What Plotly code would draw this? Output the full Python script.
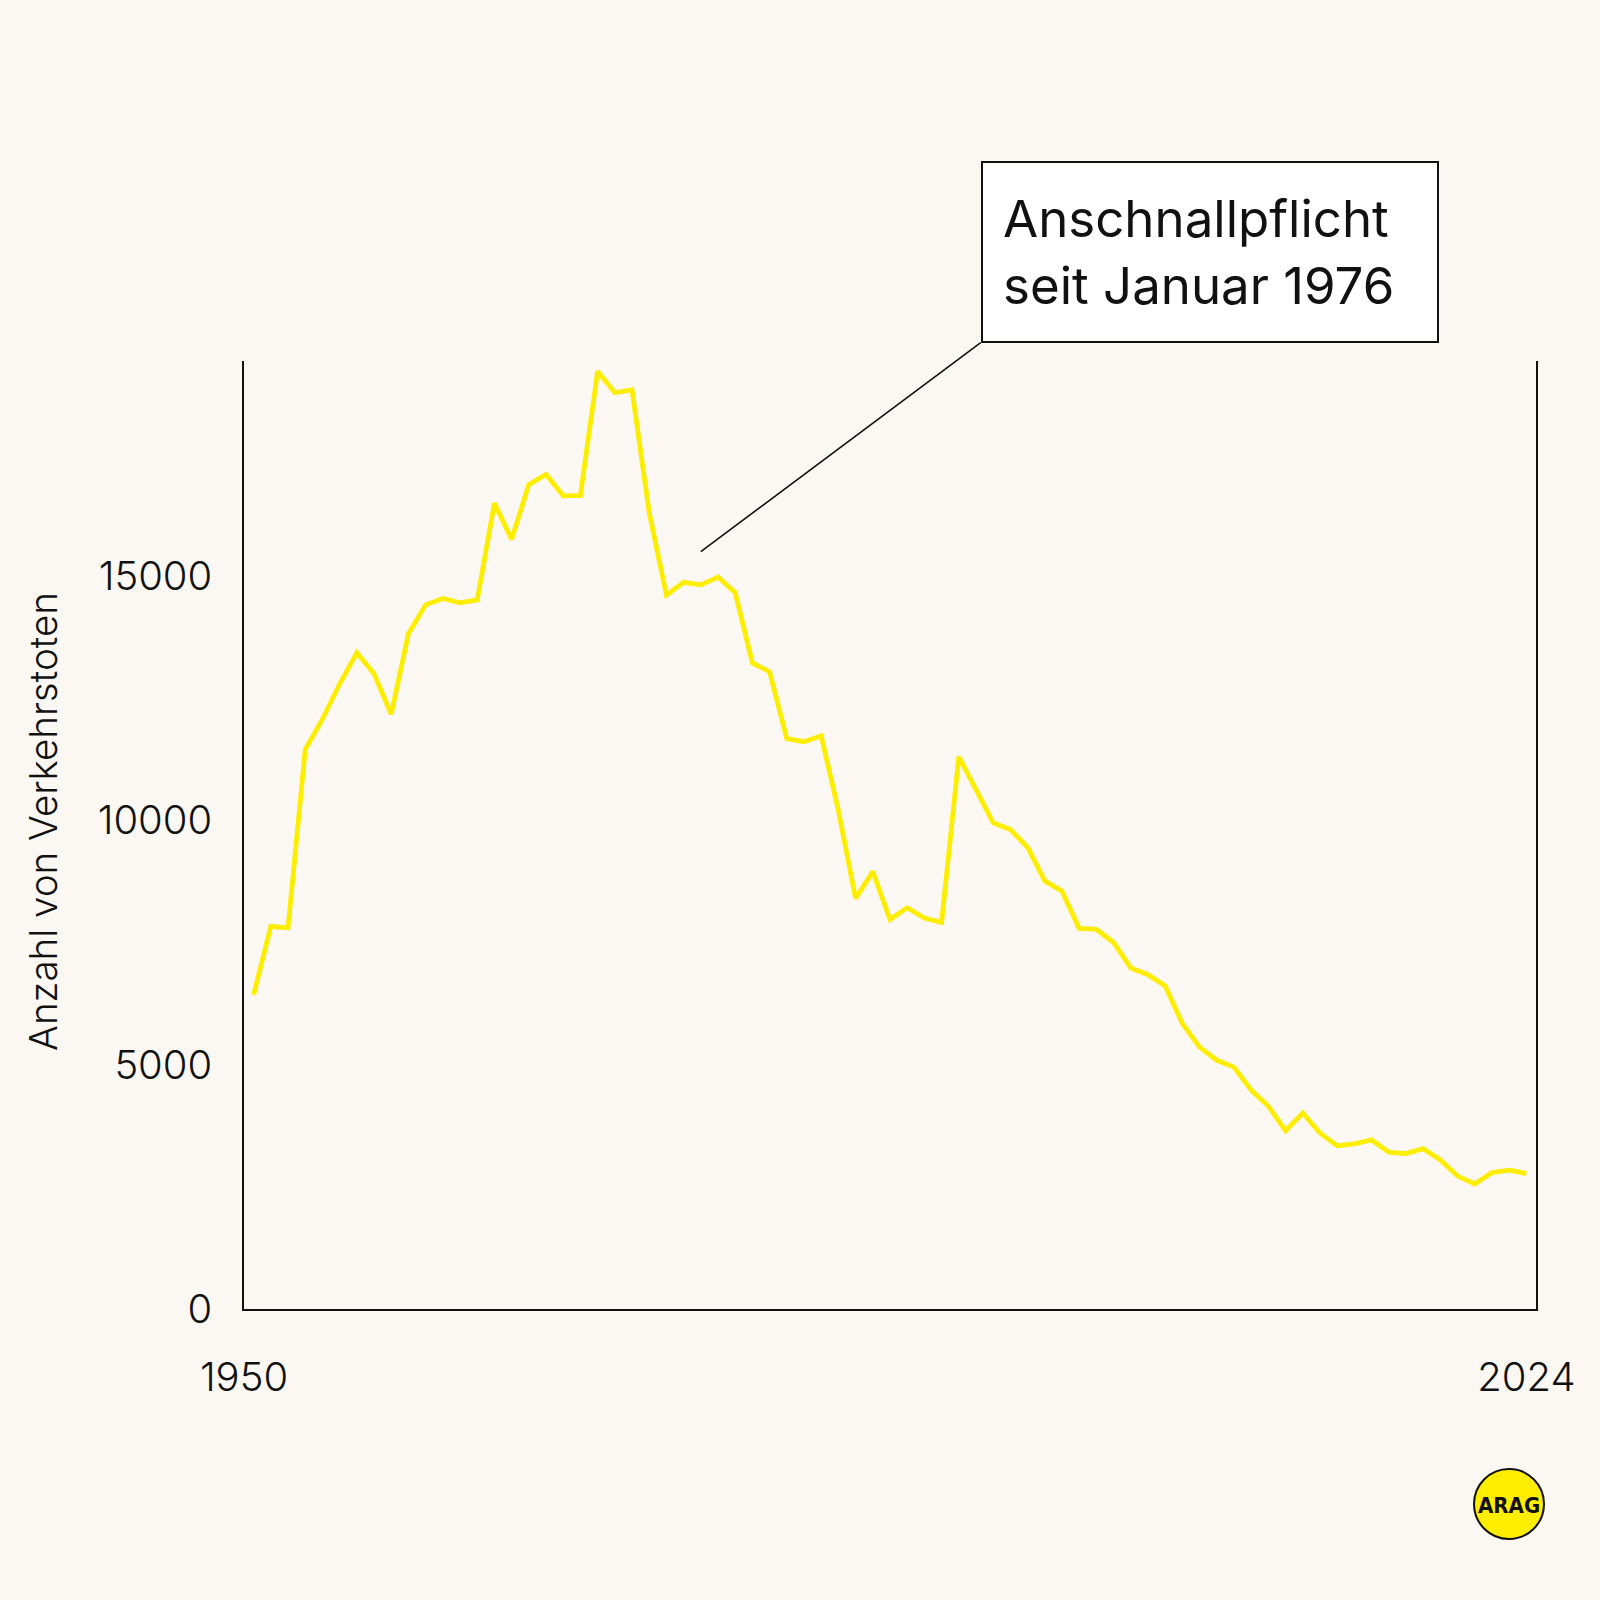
import plotly.graph_objects as go

# ---- data ----
years = list(range(1950, 2025))
deaths = [
    6430, 7830, 7800, 11450, 12070, 12790, 13430, 13000, 12170, 13820,
    14410, 14540, 14450, 14510, 16490, 15750, 16870, 17080, 16640, 16650,
    19190, 18750, 18810, 16300, 14610, 14870, 14820, 14980, 14660, 13220,
    13040, 11670, 11610, 11730, 10200, 8400, 8950, 7970, 8210, 8000,
    7910, 11300, 10630, 9950, 9810, 9450, 8760, 8550, 7790, 7770,
    7500, 6980, 6840, 6610, 5840, 5360, 5090, 4950, 4480, 4150,
    3650, 4010, 3600, 3340, 3380, 3460, 3210, 3180, 3280, 3050,
    2720, 2560, 2790, 2840, 2770,
]
x_tick_text = ["1950", "2024"]
y_ticks = [0, 5000, 10000, 15000]
y_title = "Anzahl von Verkehrstoten"
note_text = "Anschnallpflicht<br>seit Januar 1976"
note_year = 1976
note_value = 15500

# ---- styling ----
BG = "#FBF8F3"
YELLOW = "#FFED00"
INK = "#111111"
FONT = "Inter"

W, H = 1600, 1600
L, R, T, B = 244, 64, 361, 291
X_RANGE = [1949.44, 2024.56]
Y_RANGE = [0, 19400]

fig = go.Figure()
fig.add_trace(go.Scatter(
    x=years, y=deaths, mode="lines",
    line=dict(color=YELLOW, width=4.8),
    hoverinfo="skip", showlegend=False,
))

fig.update_layout(
    width=W, height=H,
    paper_bgcolor=BG, plot_bgcolor=BG,
    margin=dict(l=L, r=R, t=T, b=B, pad=0),
    font=dict(family=FONT, color=INK),
    showlegend=False,
    xaxis=dict(
        range=X_RANGE, showgrid=False, zeroline=False,
        showline=True, linecolor=INK, linewidth=1.5, mirror=False,
        tickmode="array", tickvals=[X_RANGE[0], years[-1]], ticktext=x_tick_text,
        ticks="", ticklabelstandoff=32,
        tickfont=dict(family=FONT, size=40, color=INK, weight=300),
        fixedrange=True,
    ),
    yaxis=dict(
        range=Y_RANGE, showgrid=False, zeroline=False,
        showline=True, linecolor=INK, linewidth=1.5, mirror=True,
        tickmode="array", tickvals=y_ticks, ticktext=[str(v) for v in y_ticks],
        ticks="", ticklabelstandoff=22,
        tickfont=dict(family=FONT, size=40, color=INK, weight=300),
        fixedrange=True,
    ),
)

# y axis title
fig.add_annotation(
    text=y_title, xref="paper", yref="paper",
    x=(43 - L) / (W - L - R), y=(H - B - 822) / (H - T - B),
    xanchor="center", yanchor="middle", textangle=-90, showarrow=False,
    font=dict(family=FONT, size=38.5, color=INK, weight=300),
)

# callout box with leader line
px_x = (W - L - R) / (X_RANGE[1] - X_RANGE[0])
px_y = (H - T - B) / (Y_RANGE[1] - Y_RANGE[0])
box_left_px, box_bottom_px = 980.7, 342.7
tail_x = X_RANGE[0] + (box_left_px - L) / px_x
tail_y = Y_RANGE[0] + ((H - B) - box_bottom_px) / px_y
fig.add_annotation(
    x=note_year, y=note_value, xref="x", yref="y",
    ax=tail_x, ay=tail_y, axref="x", ayref="y",
    text=note_text, showarrow=True, arrowhead=0, arrowwidth=1.6,
    arrowcolor=INK, standoff=0, startstandoff=0,
    xanchor="left", yanchor="bottom", align="left", valign="middle",
    width=414, height=138, borderpad=20, borderwidth=2,
    bordercolor=INK, bgcolor="#FFFFFF",
    font=dict(family=FONT, size=51, color=INK),
)

# logo
cx, cy, rad = 1509, 1504, 35
def px2paper_x(p):
    return (p - L) / (W - L - R)
def px2paper_y(p):
    return ((H - B) - p) / (H - T - B)
fig.add_shape(
    type="circle", xref="paper", yref="paper",
    x0=px2paper_x(cx - rad), x1=px2paper_x(cx + rad),
    y0=px2paper_y(cy + rad), y1=px2paper_y(cy - rad),
    fillcolor=YELLOW, line=dict(color=INK, width=2), layer="above",
)
fig.add_annotation(
    text="<b>ARAG</b>", xref="paper", yref="paper",
    x=px2paper_x(cx), y=px2paper_y(cy + 1), xanchor="center", yanchor="middle",
    showarrow=False,
    font=dict(family="Liberation Sans Narrow, DejaVu Sans Condensed, sans-serif", size=22, color=INK),
)

fig.write_html(
    "out.html",
    config={"displayModeBar": False},
    post_script="document.body.style.margin='0';document.body.style.background='" + BG + "';",
)
